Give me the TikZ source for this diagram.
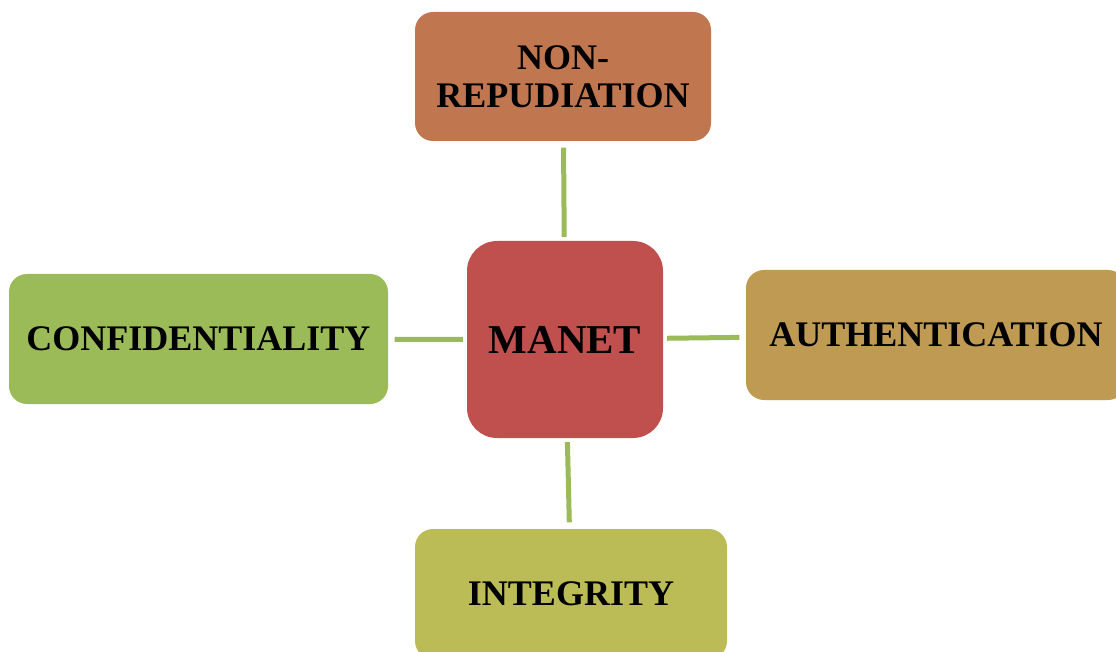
\documentclass[tikz,border=0pt]{standalone}
\usepackage{fontspec}
\setmainfont{Liberation Serif}
\definecolor{cNR}{HTML}{C0774F}
\definecolor{cMANET}{HTML}{C0504D}
\definecolor{cCONF}{HTML}{9BBB59}
\definecolor{cAUTH}{HTML}{BE9A52}
\definecolor{cINT}{HTML}{BCBC56}
\definecolor{cLINK}{HTML}{9BBB59}
\begin{document}
\begin{tikzpicture}[x=1pt,y=-1pt,
  box/.style={rectangle,rounded corners=18pt,inner sep=0pt,align=center,
    font=\bfseries\fontsize{36}{38}\selectfont,text=black},
  link/.style={draw=cLINK,line width=5pt,shorten <=6.5pt,shorten >=4pt}]
\useasboundingbox (0,0) rectangle (1116,652);
\node[box,fill=cNR,minimum width=296pt,minimum height=129pt] (nr) at (563,76.5) {NON-\\REPUDIATION};
\node[box,fill=cMANET,rounded corners=30pt,minimum width=196pt,minimum height=197pt,font=\bfseries\fontsize{41}{44}\selectfont] (manet) at (565,339.5) {MANET};
\node[box,fill=cCONF,minimum width=379pt,minimum height=130pt] (conf) at (198.5,339) {CONFIDENTIALITY};
\node[box,fill=cAUTH,minimum width=380pt,minimum height=130pt] (auth) at (936,335) {AUTHENTICATION};
\node[box,fill=cINT,minimum width=312pt,minimum height=130pt] (integ) at (571,594) {INTEGRITY};
\draw[link] (nr) -- (manet);
\draw[link] (conf) -- (manet);
\draw[link] (auth) -- (manet);
\draw[link] (integ) -- (manet);
\end{tikzpicture}
\end{document}
